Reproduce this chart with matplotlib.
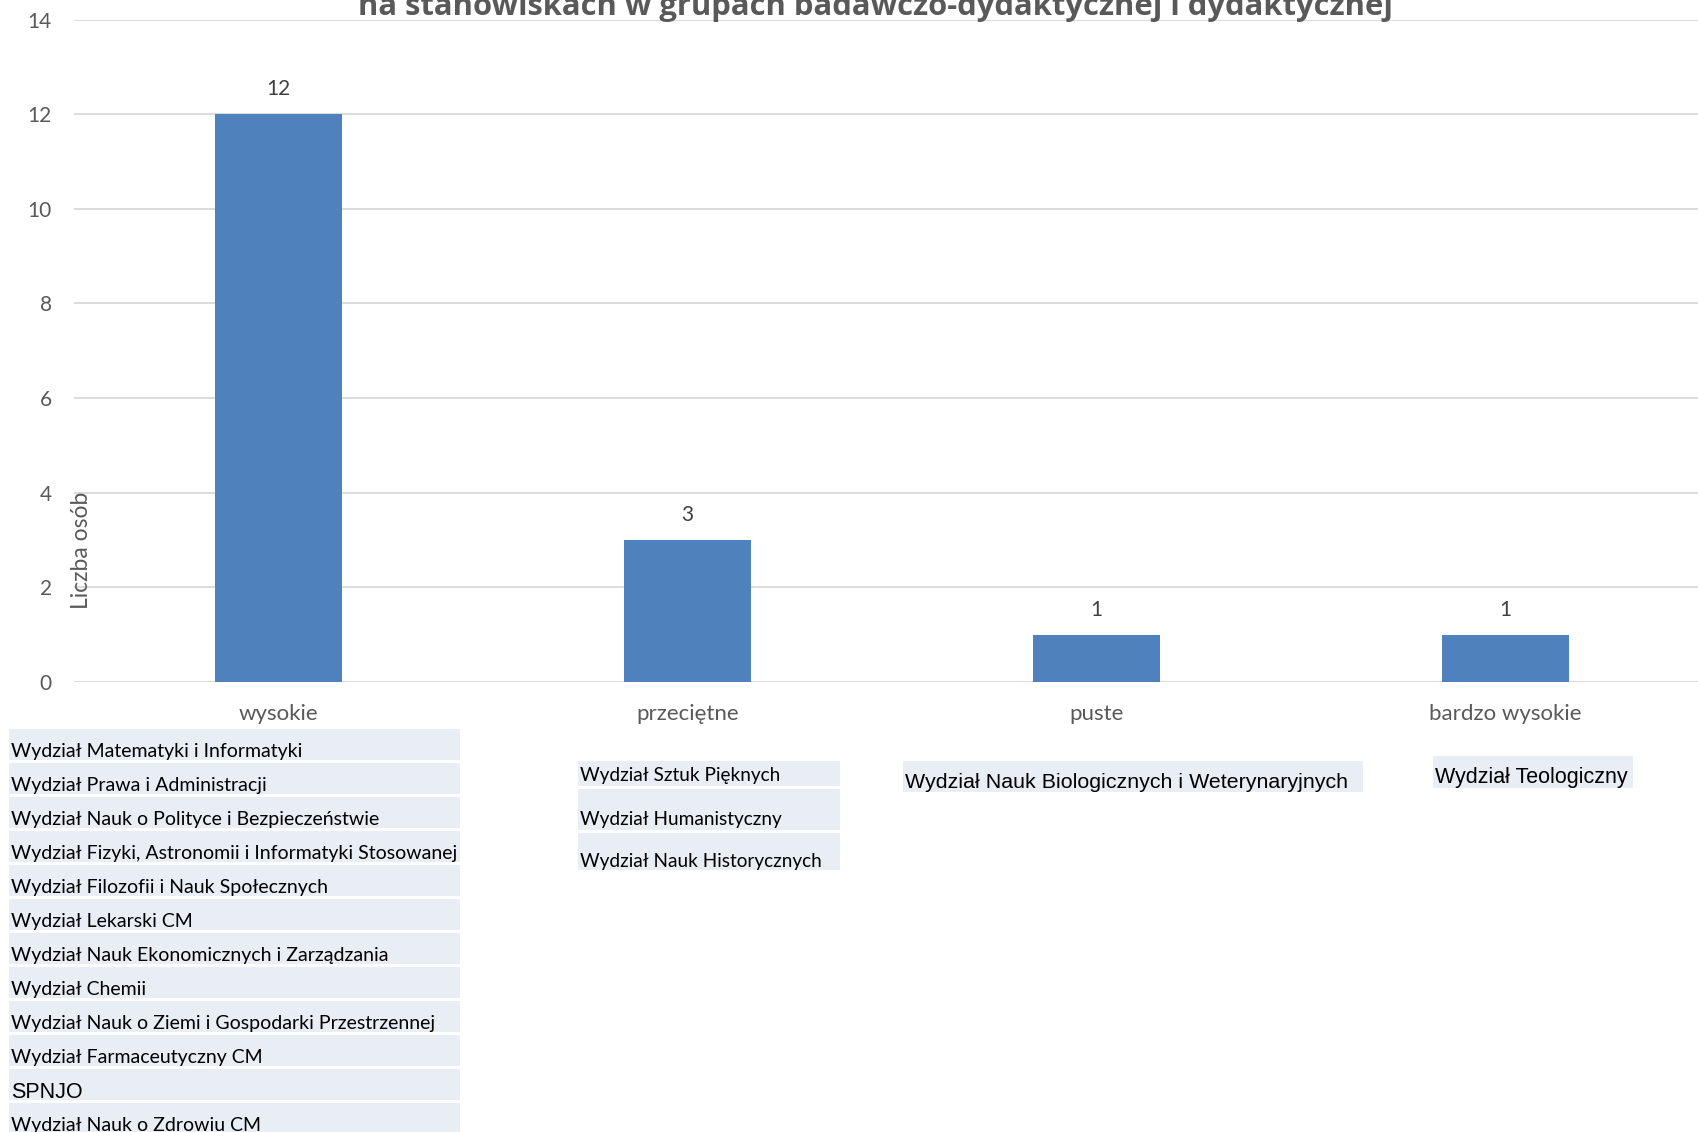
import matplotlib.pyplot as plt
from matplotlib.patches import Rectangle

# Data
categories = ["wysokie", "przeciętne", "puste", "bardzo wysokie"]
counts = [12, 3, 1, 1]

faculties_wysokie = [
    "Wydział Matematyki i Informatyki",
    "Wydział Prawa i Administracji",
    "Wydział Nauk o Polityce i Bezpieczeństwie",
    "Wydział Fizyki, Astronomii i Informatyki Stosowanej",
    "Wydział Filozofii i Nauk Społecznych",
    "Wydział Lekarski CM",
    "Wydział Nauk Ekonomicznych i Zarządzania",
    "Wydział Chemii",
    "Wydział Nauk o Ziemi i Gospodarki Przestrzennej",
    "Wydział Farmaceutyczny CM",
    "SPNJO",
    "Wydział Nauk o Zdrowiu CM",
]
faculties_przecietne = [
    "Wydział Sztuk Pięknych",
    "Wydział Humanistyczny",
    "Wydział Nauk Historycznych",
]
faculties_puste = ["Wydział Nauk Biologicznych i Weterynaryjnych"]
faculties_bardzo = ["Wydział Teologiczny"]

title = "na stanowiskach w grupach badawczo-dydaktycznej i dydaktycznej"
ylabel = "Liczba osób"

W, H = 1698, 1132
fig = plt.figure(figsize=(W / 100, H / 100), dpi=100)

def fx(px):
    return px / W

def fy(py):
    return 1 - py / H

gray_txt = "#595959"
bar_color = "#4F81BD"
grid_color = "#D9D9D9"
box_color = "#E9EDF4"

ax = fig.add_axes([fx(74), fy(682), 1 - fx(74), fy(19.5) - fy(682)])
x = range(len(categories))
bars = ax.bar(x, counts, width=0.31, color=bar_color, zorder=3)
ax.set_xlim(-0.5, 3.47)
ax.set_ylim(0, 14)
ax.set_yticks(range(0, 15, 2))
ax.yaxis.grid(True, color=grid_color, linewidth=1.3, zorder=0)
for s in ax.spines.values():
    s.set_visible(False)
ax.tick_params(axis="y", length=0, pad=16, labelsize=15, labelcolor=gray_txt)
ax.tick_params(axis="x", length=0, pad=16, labelsize=16, labelcolor=gray_txt)
ax.set_xticks(list(x))
ax.set_xticklabels(categories)
for lab in ax.get_xticklabels() + ax.get_yticklabels():
    lab.set_fontfamily("Lato")

for b, v in zip(bars, counts):
    ax.annotate(str(v), (b.get_x() + b.get_width() / 2, v), xytext=(0, 18),
                textcoords="offset points", ha="center", va="center",
                fontsize=15, color="#404040", family="Lato")

fig.text(fx(875), fy(15), title, ha="center", va="baseline", fontsize=22.3,
         fontweight="bold", color=gray_txt, family="Open Sans")
fig.text(fx(82), fy(550), ylabel, rotation=90, ha="center", va="center",
         fontsize=16.5, color=gray_txt, family="Lato")

def draw_box(left, top, width, height, text, text_y, family, size):
    fig.patches.append(Rectangle((fx(left), fy(top + height)), fx(width),
                                 height / H, transform=fig.transFigure,
                                 facecolor=box_color, edgecolor="none", zorder=1))
    fig.text(fx(left + 2), fy(text_y), text, ha="left", va="center",
             fontsize=size, color="black", family=family, zorder=2)

# left column
for i, name in enumerate(faculties_wysokie):
    top = 729 + 34 * i
    if name == "SPNJO":
        draw_box(9, top, 451, 31, name, top + 23, "Liberation Sans", 15.5)
    else:
        draw_box(9, top, 451, 31, name, top + 22, "Lato", 14)

# middle column
mid_layout = [(761, 25, 776), (789, 41, 820), (833, 37, 862)]
for name, (top, h, ty) in zip(faculties_przecietne, mid_layout):
    draw_box(578, top, 262, h, name, ty, "Lato", 13.7)

for name in faculties_puste:
    draw_box(903, 761, 460, 31, name, 783, "Liberation Sans", 15.4)

for name in faculties_bardzo:
    draw_box(1433, 756, 200, 32, name, 778, "Liberation Sans", 15.5)

fig.savefig("out.png", dpi=100)
